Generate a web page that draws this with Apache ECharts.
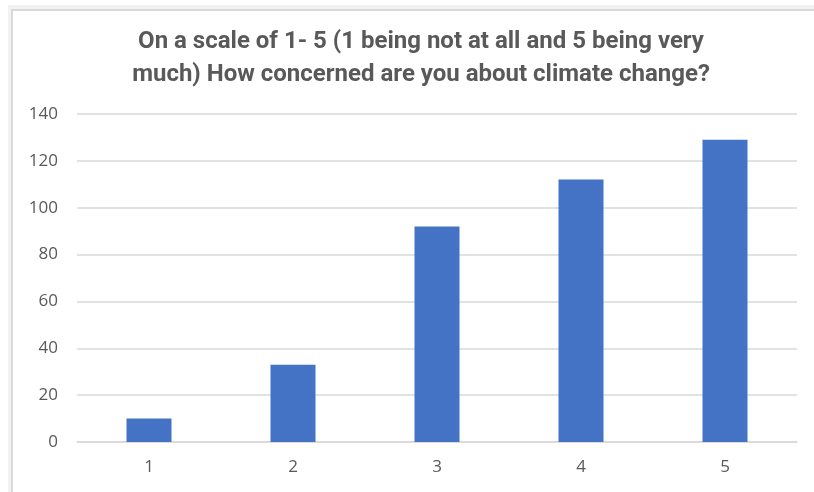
<!DOCTYPE html>
<html>
<head>
<meta charset="utf-8">
<script src="https://cdn.jsdelivr.net/npm/echarts@6/dist/echarts.min.js"></script>
<style>html,body{margin:0;padding:0;background:#fff;}#c{width:814px;height:492px;}</style>
</head>
<body>
<div id="c"></div>
<script>
const titleLines = ["On a scale of 1- 5 (1 being not at all and 5 being very", "much) How concerned are you about climate change?"];
const categories = ["1", "2", "3", "4", "5"];
const values = [10, 33, 92, 112, 129];
const yTicks = [0, 20, 40, 60, 80, 100, 120, 140];

const chart = echarts.init(document.getElementById('c'), null, {renderer: 'canvas'});
chart.setOption({
  backgroundColor: '#ffffff',
  animation: false,
  title: {
    text: titleLines.join('\n'),
    left: 416, top: 20, textAlign: 'center',
    textStyle: {fontFamily: 'Roboto', fontWeight: 'bold', fontSize: 24, color: '#595959', lineHeight: 33}
  },
  graphic: [
    {type: 'rect', shape: {x: 8, y: 5, width: 806, height: 5}, style: {fill: '#f1f2f4'}, silent: true},
    {type: 'rect', shape: {x: 8, y: 5, width: 4, height: 487}, style: {fill: '#f1f2f4'}, silent: true},
    {type: 'rect', shape: {x: 11, y: 9, width: 803, height: 2}, style: {fill: '#d9d9d9'}, silent: true},
    {type: 'rect', shape: {x: 11, y: 9, width: 2, height: 483}, style: {fill: '#d9d9d9'}, silent: true}
  ],
  grid: {left: 77, right: 17, top: 114, bottom: 50},
  xAxis: {
    type: 'category', data: categories,
    axisLine: {show: true, lineStyle: {color: '#d9d9d9', width: 1.5}},
    axisTick: {show: false},
    axisLabel: {color: '#595959', fontFamily: 'Open Sans', fontSize: 17, margin: 17}
  },
  yAxis: {
    type: 'value', min: yTicks[0], max: yTicks[yTicks.length - 1], interval: yTicks[1] - yTicks[0],
    axisLine: {show: false}, axisTick: {show: false},
    axisLabel: {color: '#595959', fontFamily: 'Open Sans', fontSize: 17, margin: 19},
    splitLine: {lineStyle: {color: '#d9d9d9', width: 1.5}}
  },
  series: [{
    type: 'bar', data: values, barWidth: 45,
    itemStyle: {color: '#4472C4'}
  }]
});
</script>
</body>
</html>
